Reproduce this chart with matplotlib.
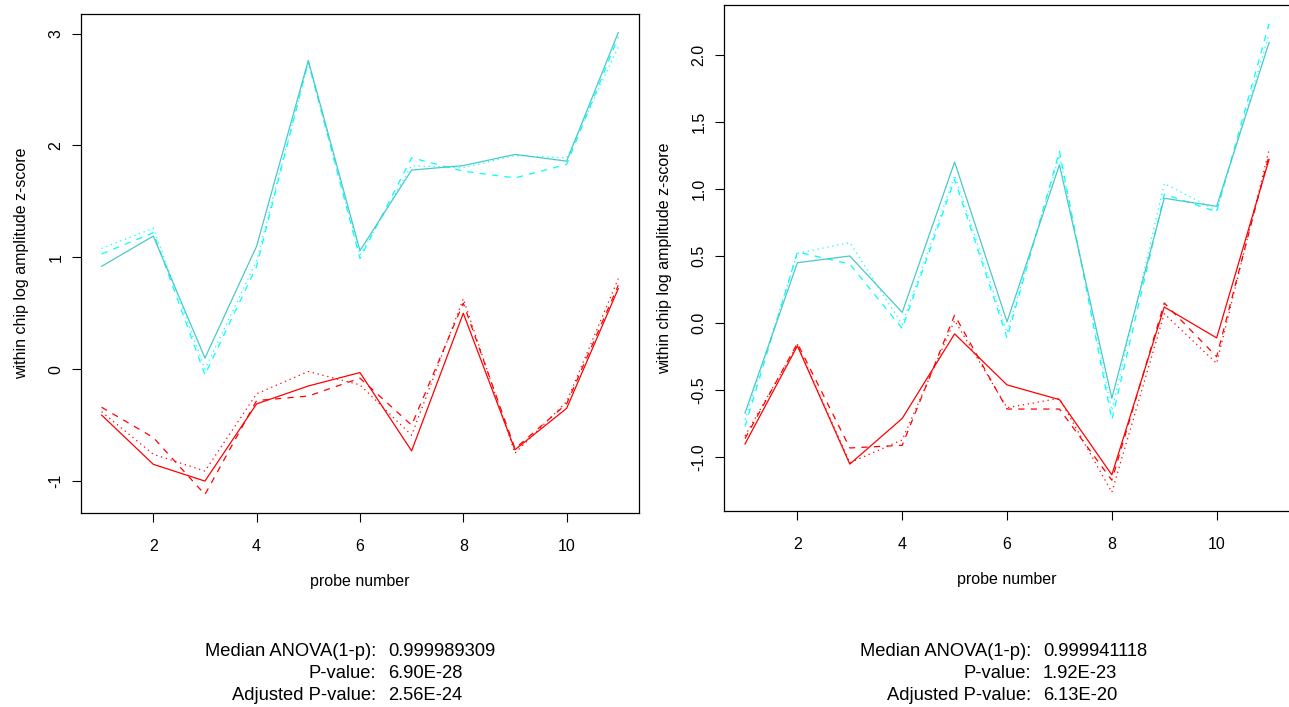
import matplotlib
matplotlib.use("Agg")
import matplotlib.pyplot as plt
import numpy as np

plt.rcParams['font.family'] = ['Liberation Sans', 'DejaVu Sans']

probes = list(range(1, 12))

# left panel
left_cyan_solid = [0.92, 1.19, 0.10, 1.10, 2.76, 1.06, 1.78, 1.82, 1.92, 1.86, 3.01]
left_cyan_dashed = [1.03, 1.22, -0.05, 0.92, 2.75, 0.99, 1.89, 1.77, 1.71, 1.83, 2.97]
left_cyan_dotted = [1.08, 1.26, 0.00, 0.97, 2.74, 1.02, 1.82, 1.80, 1.91, 1.89, 2.88]
left_red_solid = [-0.41, -0.85, -1.00, -0.31, -0.15, -0.03, -0.73, 0.50, -0.72, -0.35, 0.72]
left_red_dashed = [-0.34, -0.61, -1.12, -0.28, -0.24, -0.08, -0.50, 0.59, -0.71, -0.31, 0.75]
left_red_dotted = [-0.38, -0.76, -0.91, -0.22, -0.02, -0.14, -0.59, 0.63, -0.75, -0.29, 0.81]

# right panel
right_cyan_solid = [-0.67, 0.45, 0.50, 0.08, 1.20, 0.01, 1.18, -0.56, 0.93, 0.87, 2.09]
right_cyan_dashed = [-0.77, 0.53, 0.44, -0.04, 1.07, -0.11, 1.28, -0.72, 0.96, 0.83, 2.23]
right_cyan_dotted = [-0.72, 0.52, 0.60, -0.01, 1.10, -0.07, 1.25, -0.65, 1.04, 0.84, 2.15]
right_red_solid = [-0.90, -0.17, -1.05, -0.71, -0.08, -0.46, -0.57, -1.13, 0.12, -0.11, 1.22]
right_red_dashed = [-0.86, -0.15, -0.93, -0.91, 0.06, -0.64, -0.64, -1.17, 0.15, -0.25, 1.25]
right_red_dotted = [-0.84, -0.16, -1.04, -0.87, 0.02, -0.63, -0.56, -1.26, 0.07, -0.30, 1.29]

left_yticks = [-1, 0, 1, 2, 3]
right_yticks = [-1.0, -0.5, 0.0, 0.5, 1.0, 1.5, 2.0]
xticks = [2, 4, 6, 8, 10]

stat_labels = ["Median ANOVA(1-p):", "P-value:", "Adjusted P-value:"]
left_stats = ["0.999989309", "6.90E-28", "2.56E-24"]
right_stats = ["0.999941118", "1.92E-23", "6.13E-20"]

CYAN_SOLID = '#4cc8c8'
CYAN = '#00ffff'
RED = '#ff0000'
DASH = (0, (5, 5))
DOT = (0, (1, 3))


def panel(ax, series, yticks, ylabels):
    cs, cd, ct, rs, rd, rt = series
    lw = 0.9
    ax.plot(probes, cd, color=CYAN, lw=lw, ls=DASH)
    ax.plot(probes, ct, color=CYAN, lw=lw, ls=DOT)
    ax.plot(probes, cs, color=CYAN_SOLID, lw=lw)
    ax.plot(probes, rd, color=RED, lw=lw, ls=DASH)
    ax.plot(probes, rt, color=RED, lw=lw, ls=DOT)
    ax.plot(probes, rs, color=RED, lw=lw)

    # R style axis range: data range plus 4% each side
    allv = np.concatenate([np.array(s) for s in series])
    lo, hi = allv.min(), allv.max()
    pad = 0.04 * (hi - lo)
    ax.set_ylim(lo - pad, hi + pad)
    ax.set_xlim(1 - 0.4, 11 + 0.4)

    ax.set_xticks(xticks)
    ax.set_yticks(yticks)
    ax.set_yticklabels(ylabels, rotation=90, va='center')
    ax.tick_params(direction='out', length=6.5, width=0.8, labelsize=11.5)
    ax.tick_params(axis='y', pad=6)
    ax.tick_params(axis='x', pad=12)
    for sp in ax.spines.values():
        sp.set_linewidth(0.9)
    ax.set_xlabel("probe number", fontsize=11.5, labelpad=14.5)
    ax.set_ylabel("within chip log amplitude z-score", fontsize=11.5, labelpad=14)


fig = plt.figure(figsize=(12.89, 7.07), dpi=100)
ax1 = fig.add_axes([0.0628, 0.2744, 0.4329, 0.7058])
ax2 = fig.add_axes([0.5617, 0.2772, 0.4391, 0.7157])

panel(ax1, [left_cyan_solid, left_cyan_dashed, left_cyan_dotted,
            left_red_solid, left_red_dashed, left_red_dotted],
      left_yticks, [str(v) for v in left_yticks])
panel(ax2, [right_cyan_solid, right_cyan_dashed, right_cyan_dotted,
            right_red_solid, right_red_dashed, right_red_dotted],
      right_yticks, ["%.1f" % v for v in right_yticks])

# statistics text under each panel
line_y = [652, 674, 696]
for colon_x, vals in [(376, left_stats), (1031, right_stats)]:
    for lab, val, y in zip(stat_labels, vals, line_y):
        fy = 1 - y / 707
        fig.text(colon_x / 1289, fy, lab, ha='right', va='center', fontsize=13.2)
        fig.text((colon_x + 12) / 1289, fy, val, ha='left', va='center', fontsize=13.2)

fig.savefig("out.png", dpi=100)
